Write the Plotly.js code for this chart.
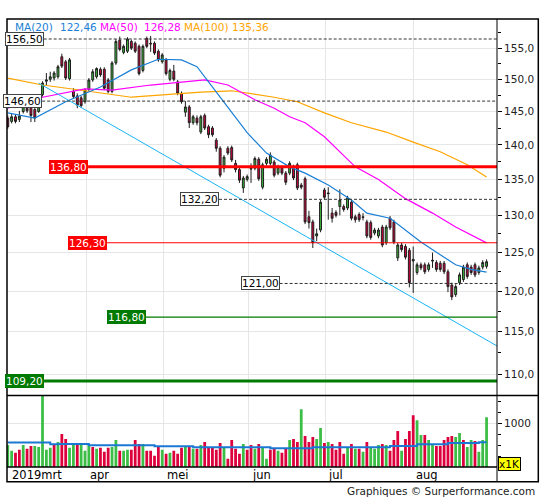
<!DOCTYPE html>
<html><head><meta charset="utf-8">
<script src="https://cdn.plot.ly/plotly-3.0.1.min.js"></script>
<style>html,body{margin:0;padding:0;background:#fff}#chart{width:545px;height:500px}</style>
</head><body><div id="chart"></div>
<script>
// ---- data (trading-day index 0 = 1 mrt 2019) ----
const openP = [144.0,143.5,144.2,143.8,145.0,145.5,145.7,145.3,145.0,147.6,
149.7,150.0,150.2,150.4,153.6,152.8,150.1,148.1,147.4,147.1,
146.5,148.4,149.9,150.4,151.6,151.6,149.9,148.1,152.6,156.3,
154.3,154.5,156.1,155.8,155.3,151.4,156.6,155.8,155.8,154.5,
152.8,153.1,150.0,151.3,149.6,147.8,144.9,145.7,143.3,144.0,
141.9,144.4,142.7,142.5,140.7,139.5,136.6,139.5,139.6,137.3,
136.4,133.8,135.0,136.6,136.6,137.9,133.9,137.3,137.3,137.5,
135.9,136.7,135.9,135.9,136.8,137.1,134.2,135.1,129.8,129.1,
127.2,128.0,133.5,133.1,130.3,130.4,131.2,131.2,131.0,131.8,
129.8,130.1,129.8,129.1,129.0,127.6,127.2,128.4,126.3,129.6,
129.1,124.3,126.0,125.8,125.3,123.9,122.4,123.4,123.4,122.8,
124.0,123.7,123.6,123.6,122.5,120.8,119.6,121.1,121.5,123.4,
123.1,123.4,122.4,123.1,123.2];
const highP = [144.4,144.6,144.5,145.1,146.2,145.9,146.0,145.6,147.6,149.7,
151.0,151.2,151.3,152.3,154.1,153.1,153.4,148.6,147.8,147.4,
148.6,150.2,151.6,151.9,151.9,151.9,150.2,152.9,156.5,156.9,
155.6,156.8,156.4,156.1,155.6,155.6,156.9,157.0,156.1,154.8,
154.2,153.4,151.7,152.3,149.9,148.1,146.6,146.0,144.5,144.4,
144.5,144.7,143.0,142.8,141.0,139.8,138.5,139.8,139.9,137.8,
136.7,135.5,135.7,137.3,138.3,138.2,137.4,138.2,138.9,137.8,
137.1,137.0,136.2,137.6,137.1,137.4,134.5,135.4,130.6,129.4,
128.2,132.1,133.8,133.9,131.0,130.7,133.6,131.5,132.7,132.1,
130.1,130.4,130.3,129.4,129.3,128.3,128.3,128.7,128.7,129.9,
129.4,126.3,126.3,126.1,125.6,125.8,123.7,123.7,123.7,123.7,
125.0,124.0,123.9,123.9,122.8,121.1,120.9,122.4,123.4,123.7,
123.4,123.7,123.3,124.0,124.1];
const lowP = [142.4,143.2,143.2,143.4,144.7,144.8,143.4,143.4,144.8,147.3,
149.1,149.6,149.8,150.1,151.8,149.9,149.8,147.0,145.5,145.6,
146.2,148.1,149.6,150.1,150.4,148.3,147.8,147.8,152.3,154.5,
154.0,154.2,154.7,154.2,150.6,151.1,155.0,154.4,153.9,152.8,
152.5,150.6,149.7,149.7,147.5,146.2,144.2,142.5,143.0,142.9,
141.6,142.2,141.0,141.2,139.0,135.3,136.0,138.5,137.5,136.0,
134.5,133.1,134.7,134.5,136.3,134.8,133.6,137.0,137.0,135.3,
135.6,135.6,134.2,135.6,134.9,133.5,133.6,128.8,128.2,125.6,
126.5,127.7,132.2,129.4,129.0,129.7,130.0,130.5,130.7,129.3,
129.0,129.1,129.3,126.9,126.7,127.3,126.9,125.7,126.0,128.0,
126.1,123.9,125.1,124.1,120.5,119.8,122.1,122.7,122.2,122.5,
123.0,122.5,122.5,122.2,119.9,118.9,119.3,120.8,121.2,121.6,
122.1,121.8,122.1,122.8,122.9];
const closeP = [142.7,144.2,143.5,144.3,145.8,145.1,144.4,144.0,147.3,149.4,
149.9,150.4,151.0,152.0,152.1,150.2,153.1,147.3,146.0,145.9,
148.3,149.9,151.2,151.7,150.7,148.6,148.1,152.6,156.1,154.8,
155.3,156.5,155.0,154.5,150.9,155.3,155.3,155.7,154.2,153.1,
153.9,150.9,151.4,150.0,147.8,146.5,145.7,143.3,144.2,143.3,
144.2,142.5,141.5,141.5,139.5,135.6,138.2,138.8,137.8,136.4,
134.9,135.2,135.4,136.5,138.0,135.1,137.1,137.9,138.5,135.6,
136.8,135.9,134.6,137.3,135.2,133.8,133.9,129.1,129.0,126.3,
127.5,131.8,132.5,133.0,129.6,130.0,132.1,130.8,132.4,129.6,
129.4,129.4,129.7,127.2,127.0,128.0,128.0,126.0,128.4,128.3,
126.4,126.0,125.4,124.4,121.1,124.1,123.4,123.0,122.5,123.4,
123.9,122.8,122.8,122.5,120.6,119.3,120.6,122.1,123.1,121.9,
122.4,122.1,123.0,123.7,123.8];
const volume = [508,371,326,394,508,417,485,485,462,1700,
394,440,508,576,758,644,440,553,531,553,
371,508,462,417,440,349,440,462,622,371,
371,394,394,622,531,531,371,371,258,462,
394,303,326,371,303,440,485,485,417,417,
508,576,462,440,394,553,440,190,622,417,
303,531,394,508,417,531,440,190,394,417,
371,326,417,622,644,576,1327,713,576,690,
644,894,553,576,531,394,576,303,462,531,
417,417,349,576,440,417,508,531,508,371,
622,826,371,644,826,1190,1076,735,735,622,
508,485,485,622,690,713,690,781,622,462,
622,599,349,622,1145];
const volUp = [1,1,0,0,1,0,0,1,1,1,
1,1,0,1,0,0,1,1,0,1,
1,1,0,1,0,0,0,1,1,0,
1,1,0,0,0,1,0,0,0,0,
1,0,1,0,0,0,1,0,1,0,
1,0,0,0,0,0,1,0,0,0,
0,1,0,0,1,0,1,1,0,0,
1,0,0,1,0,0,1,0,0,0,
1,1,0,1,0,0,0,0,1,0,
1,0,1,0,1,1,1,0,1,0,
0,0,1,0,0,0,1,1,0,1,
1,0,0,0,0,0,1,1,0,1,
1,0,1,1,1];
// moving averages read at sample days
const ma20Day = [0,7,15,24,32,39,45,49,55,62,67,73,77,83,89,93,99,102,107,112,116,120,124];
const ma20Val = [144.8,144.0,146.5,148.8,151.5,153.2,153.1,152.0,147.2,141.8,138.8,136.8,135.9,134.2,132.1,130.3,129.6,128.4,126.4,124.7,123.4,122.8,122.46];
const ma50Day = [0,9,20,27,37,45,51,57,64,69,73,77,82,90,96,103,110,116,124];
const ma50Val = [145.5,147.2,148.5,148.3,149.1,149.6,149.9,149.1,146.8,145.5,144.2,143.3,141.2,136.8,135.0,132.3,130.3,128.4,126.28];
const ma100Day = [0,9,20,27,32,41,50,58,69,75,82,89,98,105,112,119,124];
const ma100Val = [150.2,149.1,148.2,147.6,147.2,147.6,148.0,148.2,147.2,146.5,144.8,143.3,141.9,140.4,139.0,137.1,135.36];
const volMaDay = [0,11,13,21,38,48,68,79,99,106,114,122,124];
const volMaVal = [561,523,531,500,478,455,432,455,485,523,553,568,568];
const trendDay = [8,126.7];
const trendVal = [149.4,113.3];
// horizontal levels
const levels = [156.5,146.6,136.8,132.2,126.3,121.0,116.8,109.2];
const levelStart = [9.3,8.9,20.8,54.7,25.7,70.4,35.8,9.4];
// axis labels
const priceTicks = [110,115,120,125,130,135,140,145,150,155];
const priceMinor = [112.5,117.5,122.5,127.5,132.5,137.5,142.5,147.5,152.5,157.5];
const monthPos = [-0.2,20.5,40.4,62.4,82.2,105.0];
const monthLbl = ['2019mrt','apr','mei','jun','jul','aug'];

// ---- drawing ----
const idx = openP.map((_,i)=>i);
const FONT = 'DejaVu Sans';
const W=545,H=500,mL=7,mR=48,mT=19,mB=33;
const plotW=W-mL-mR, plotH=H-mT-mB;
const py = y => (H-mB-y)/plotH;
const pxx = x => (x-mL)/plotW;
const volTop = py(395.5);
const fmt = (v,d)=>v.toFixed(d).replace('.',',');
const GREEN='#3cbb3c', RED='#d6003c';

const levelStyle = [
 {color:'#333',width:1,dash:'3px,2px',bg:'#fff',fc:'#000',bc:'#444'},
 {color:'#333',width:1,dash:'3px,2px',bg:'#fff',fc:'#000',bc:'#444'},
 {color:'#ff0000',width:3,dash:'solid',bg:'#ff0000',fc:'#fff',bc:'#ff0000'},
 {color:'#333',width:1,dash:'3px,2px',bg:'#fff',fc:'#000',bc:'#444'},
 {color:'#ff0000',width:1.2,dash:'solid',bg:'#ff0000',fc:'#fff',bc:'#ff0000'},
 {color:'#333',width:1,dash:'3px,2px',bg:'#fff',fc:'#000',bc:'#444'},
 {color:'#007a00',width:1.2,dash:'solid',bg:'#007a00',fc:'#fff',bc:'#007a00'},
 {color:'#007a00',width:3,dash:'solid',bg:'#007a00',fc:'#fff',bc:'#007a00'}
];

const traces = [];
traces.push({type:'candlestick',x:idx,open:openP,high:highP,low:lowP,close:closeP,
  xaxis:'x',yaxis:'y',whiskerwidth:0,hoverinfo:'skip',
  increasing:{line:{color:'#1e1e1e',width:1},fillcolor:GREEN},
  decreasing:{line:{color:'#1e1e1e',width:1},fillcolor:RED}});
traces.push({type:'scatter',mode:'lines',x:ma100Day,y:ma100Val,line:{color:'#ffa500',width:1.2},xaxis:'x',yaxis:'y',hoverinfo:'skip'});
traces.push({type:'scatter',mode:'lines',x:ma50Day,y:ma50Val,line:{color:'#ff00ff',width:1.2},xaxis:'x',yaxis:'y',hoverinfo:'skip'});
traces.push({type:'scatter',mode:'lines',x:ma20Day,y:ma20Val,line:{color:'#1a7fd6',width:1.2},xaxis:'x',yaxis:'y',hoverinfo:'skip'});
traces.push({type:'scatter',mode:'lines',x:trendDay,y:trendVal,line:{color:'#1ab4f5',width:1},xaxis:'x',yaxis:'y',hoverinfo:'skip'});
levels.forEach((v,k)=>{
  const s=levelStyle[k];
  traces.push({type:'scatter',mode:'lines',x:[levelStart[k],126.7],y:[v,v],
    line:{color:s.color,width:s.width,dash:s.dash},xaxis:'x',yaxis:'y',hoverinfo:'skip'});
});
traces.push({type:'bar',x:idx,y:volume,width:0.72,marker:{color:volUp.map(u=>u?'#3cbe46':'#dc003c'),line:{width:0}},
  xaxis:'x2',yaxis:'y2',hoverinfo:'skip'});
traces.push({type:'scatter',mode:'lines',x:volMaDay,y:volMaVal,line:{color:'#1a78d2',width:2,shape:'hv'},xaxis:'x2',yaxis:'y2',hoverinfo:'skip'});

const ann = [];
levels.forEach((v,k)=>{
  const s=levelStyle[k];
  ann.push({xref:'x',yref:'y',x:levelStart[k],y:Math.log10(v),xanchor:'right',yanchor:'middle',
    text:fmt(v,2),showarrow:false,bgcolor:s.bg,bordercolor:s.bc,borderwidth:1,borderpad:0,
    font:{family:FONT,size:10.5,color:s.fc}});
});
const legendItems = [
 {t:'MA(20)',x:13,c:'#1a7fd6'},{t:fmt(ma20Val[ma20Val.length-1],2),x:58,c:'#1a7fd6'},
 {t:'MA(50)',x:98,c:'#ff00ff'},{t:fmt(ma50Val[ma50Val.length-1],2),x:142,c:'#ff00ff'},
 {t:'MA(100)',x:182,c:'#ffa500'},{t:fmt(ma100Val[ma100Val.length-1],2),x:230,c:'#ffa500'}];
legendItems.forEach(o=>ann.push({xref:'paper',yref:'paper',x:pxx(o.x),y:py(27),xanchor:'left',yanchor:'middle',
  text:o.t,showarrow:false,font:{family:FONT,size:10.5,color:o.c}}));
monthLbl.forEach((t,k)=>ann.push({xref:'x2',yref:'paper',x:monthPos[k],y:py(474.5),xanchor:'left',yanchor:'middle',
  xshift:k===0?3:1,text:t,showarrow:false,font:{family:FONT,size:11.5,color:'#000'}}));
ann.push({xref:'paper',yref:'paper',x:pxx(537),y:py(491),xanchor:'right',yanchor:'middle',
  text:'Graphiques © Surperformance.com',showarrow:false,font:{family:FONT,size:10.5,color:'#222'}});
ann.push({xref:'paper',yref:'paper',x:pxx(498.5),y:py(464),xanchor:'left',yanchor:'middle',
  text:'x1K',showarrow:false,bgcolor:'#ffff00',bordercolor:'#000',borderwidth:1,borderpad:0,
  font:{family:FONT,size:10.5,color:'#000'}});

const shapes = [
 {type:'rect',xref:'paper',yref:'paper',x0:0,x1:pxx(538.3),y0:py(481.7),y1:1,line:{color:'#000',width:1.5}},
 {type:'line',xref:'paper',yref:'paper',x0:0,x1:pxx(538.3),y0:volTop,y1:volTop,line:{color:'#000',width:1.5}},
 {type:'line',xref:'paper',yref:'paper',x0:0,x1:1,y0:0,y1:0,line:{color:'#000',width:1.5}},
 {type:'line',xref:'paper',yref:'paper',x0:1,x1:1,y0:py(481.7),y1:1,line:{color:'#000',width:1}}
];

const xCommon = {range:[-0.2,126.7],tickmode:'array',tickvals:monthPos.slice(1),showticklabels:false,ticks:'',
  showgrid:true,gridcolor:'#e6e6e6',gridwidth:1,zeroline:false,showline:false,fixedrange:true};
const layout = {
  width:W,height:H,margin:{l:mL,r:mR,t:mT,b:mB},paper_bgcolor:'#fff',plot_bgcolor:'#fff',
  showlegend:false,font:{family:FONT,size:10.5,color:'#222'},
  xaxis:Object.assign({},xCommon,{anchor:'y',domain:[0,1],rangeslider:{visible:false}}),
  xaxis2:Object.assign({},xCommon,{anchor:'y2',domain:[0,1],matches:'x'}),
  yaxis:{type:'log',domain:[volTop,1],range:[Math.log10(156.5)-(395.5-39)/2188,Math.log10(156.5)+(39-19)/2188],
    side:'right',anchor:'x',tickmode:'array',tickvals:priceTicks,ticktext:priceTicks.map(v=>fmt(v,1)),
    ticks:'outside',ticklen:4,tickcolor:'#000',showgrid:true,gridcolor:'#e6e6e6',zeroline:false,showline:false,
    tickfont:{family:FONT,size:10.5,color:'#222'},
    minor:{tickmode:'array',tickvals:priceMinor,ticks:'outside',ticklen:3,tickcolor:'#000',showgrid:false},fixedrange:true},
  yaxis2:{domain:[0,volTop],range:[0,1643],side:'right',anchor:'x2',tickmode:'array',tickvals:[1000],ticktext:['1000'],
    ticks:'outside',ticklen:4,tickcolor:'#000',showgrid:true,gridcolor:'#e6e6e6',zeroline:false,showline:false,
    tickfont:{family:FONT,size:10.5,color:'#222'},
    minor:{tickmode:'array',tickvals:[250,500,750,1250,1500],ticks:'outside',ticklen:3,tickcolor:'#000',showgrid:false},fixedrange:true},
  annotations:ann,shapes:shapes
};
Plotly.newPlot('chart',traces,layout,{displayModeBar:false,staticPlot:true});
</script>
</body></html>
